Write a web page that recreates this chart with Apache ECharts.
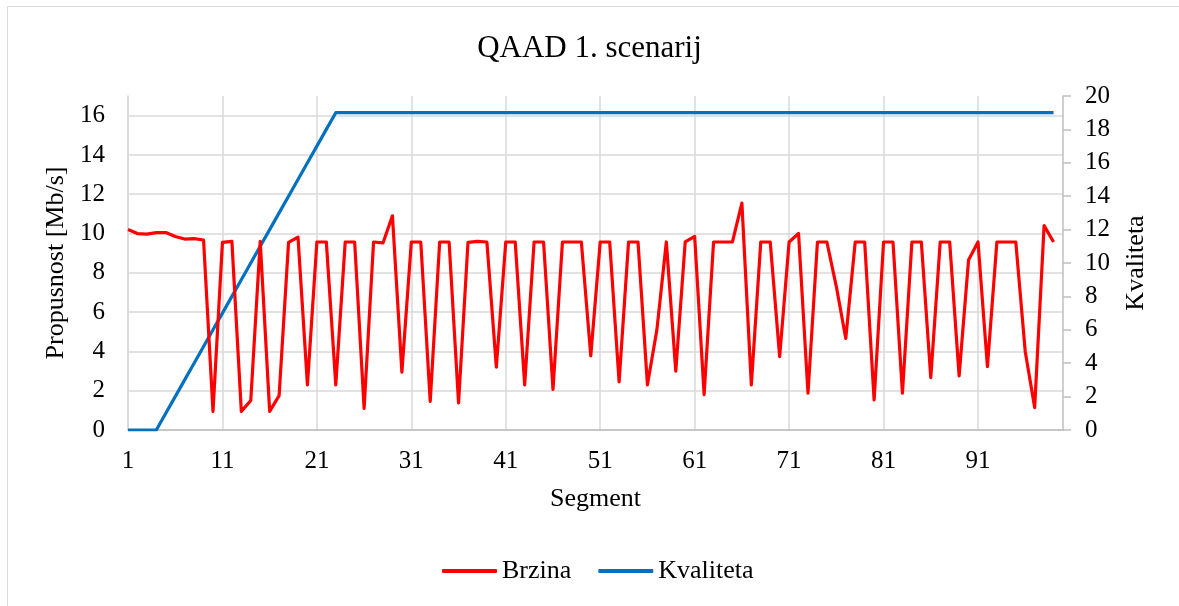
<!DOCTYPE html>
<html>
<head>
<meta charset="utf-8">
<script src="https://cdn.jsdelivr.net/npm/echarts@6/dist/echarts.min.js"></script>
<style>
html,body{margin:0;padding:0;background:#fff;}
#chart{width:1179px;height:606px;}
</style>
</head>
<body>
<div id="chart"></div>
<script>
var categories = ["1","2","3","4","5","6","7","8","9","10","11","12","13","14","15","16","17","18","19","20",
"21","22","23","24","25","26","27","28","29","30","31","32","33","34","35","36","37","38","39","40",
"41","42","43","44","45","46","47","48","49","50","51","52","53","54","55","56","57","58","59","60",
"61","62","63","64","65","66","67","68","69","70","71","72","73","74","75","76","77","78","79","80",
"81","82","83","84","85","86","87","88","89","90","91","92","93","94","95","96","97","98","99","100"];

var brzina = [10.2,10.0,9.97,10.05,10.05,9.85,9.72,9.74,9.67,0.95,
9.55,9.6,0.95,1.5,9.6,0.95,1.75,9.55,9.82,2.3,
9.57,9.57,2.3,9.57,9.57,1.1,9.57,9.52,10.9,2.95,
9.57,9.57,1.45,9.57,9.57,1.38,9.55,9.6,9.57,3.2,
9.57,9.57,2.3,9.57,9.57,2.07,9.57,9.57,9.57,3.77,
9.57,9.57,2.45,9.57,9.57,2.3,5.1,9.57,3.0,9.57,
9.85,1.8,9.57,9.57,9.57,11.55,2.3,9.57,9.57,3.73,
9.57,10.0,1.87,9.57,9.57,7.3,4.66,9.57,9.57,1.53,
9.57,9.57,1.87,9.57,9.57,2.66,9.57,9.57,2.75,8.65,
9.57,3.22,9.57,9.57,9.57,4.0,1.14,10.4,9.57];

var kvaliteta = [0,0,0,0,1,2,3,4,5,6,
7,8,9,10,11,12,13,14,15,16,
17,18,19,19,19,19,19,19,19,19,
19,19,19,19,19,19,19,19,19,19,
19,19,19,19,19,19,19,19,19,19,
19,19,19,19,19,19,19,19,19,19,
19,19,19,19,19,19,19,19,19,19,
19,19,19,19,19,19,19,19,19,19,
19,19,19,19,19,19,19,19,19,19,
19,19,19,19,19,19,19,19,19];

var leftTicks = {min: 0, max: 17, interval: 2};
var rightTicks = {min: 0, max: 20, interval: 2};

var FONT = 'Liberation Serif';
var TXT = '#000000';

var chart = echarts.init(document.getElementById('chart'));
chart.setOption({
  animation: false,
  backgroundColor: '#ffffff',
  textStyle: {fontFamily: FONT},
  graphic: [{
    type: 'rect', silent: true, z: -10,
    shape: {x: 7.5, y: 6.5, width: 1300, height: 700},
    style: {fill: 'none', stroke: '#d9d9d9', lineWidth: 1}
  }],
  title: {
    text: 'QAAD 1. scenarij',
    left: 'center', top: 28,
    textStyle: {fontFamily: FONT, fontSize: 31, fontWeight: 'normal', color: TXT}
  },
  legend: {
    left: 437, top: 553,
    itemWidth: 55, itemHeight: 4, itemGap: 27,
    icon: 'roundRect',
    textStyle: {fontFamily: FONT, fontSize: 26, color: TXT},
    data: ['Brzina', 'Kvaliteta']
  },
  grid: {left: 128, right: 116, top: 96, bottom: 176, containLabel: false, outerBoundsMode: 'none'},
  xAxis: {
    type: 'category',
    data: categories,
    boundaryGap: false,
    name: 'Segment',
    nameLocation: 'middle',
    nameGap: 56,
    nameTextStyle: {fontFamily: FONT, fontSize: 26, color: TXT},
    axisLine: {show: true, lineStyle: {color: '#bfbfbf', width: 1.5}},
    axisTick: {show: false},
    axisLabel: {interval: 9, margin: 19, fontFamily: FONT, fontSize: 25, color: TXT},
    splitLine: {show: true, interval: 9, lineStyle: {color: '#d9d9d9', width: 1.5}}
  },
  yAxis: [{
    type: 'value',
    position: 'left',
    min: leftTicks.min, max: leftTicks.max, interval: leftTicks.interval,
    name: 'Propusnost [Mb/s]',
    nameLocation: 'middle',
    nameGap: 56,
    nameRotate: 90,
    nameTextStyle: {fontFamily: FONT, fontSize: 26, color: TXT},
    axisLine: {show: true, lineStyle: {color: '#d9d9d9', width: 1.5}},
    axisTick: {show: false},
    axisLabel: {margin: 23, fontFamily: FONT, fontSize: 25, color: TXT, showMaxLabel: false},
    splitLine: {show: true, showMaxLine: false, lineStyle: {color: '#d9d9d9', width: 1.5}}
  }, {
    type: 'value',
    position: 'right',
    min: rightTicks.min, max: rightTicks.max, interval: rightTicks.interval,
    name: 'Kvaliteta',
    nameLocation: 'middle',
    nameGap: 60,
    nameRotate: 90,
    nameTextStyle: {fontFamily: FONT, fontSize: 26, color: TXT},
    axisLine: {show: true, lineStyle: {color: '#bfbfbf', width: 1.5}},
    axisTick: {show: true, length: 8, inside: false, lineStyle: {color: '#bfbfbf', width: 1.5}},
    axisLabel: {margin: 22, fontFamily: FONT, fontSize: 25, color: TXT},
    splitLine: {show: false}
  }],
  series: [{
    name: 'Brzina',
    type: 'line',
    yAxisIndex: 0,
    data: brzina,
    showSymbol: false,
    symbol: 'none',
    lineStyle: {color: '#ff0000', width: 3.2, join: 'round'},
    itemStyle: {color: '#ff0000'},
    z: 3
  }, {
    name: 'Kvaliteta',
    type: 'line',
    yAxisIndex: 1,
    data: kvaliteta,
    showSymbol: false,
    symbol: 'none',
    lineStyle: {color: '#0070c0', width: 3.2, join: 'round'},
    itemStyle: {color: '#0070c0'},
    z: 2
  }]
});
</script>
</body>
</html>
